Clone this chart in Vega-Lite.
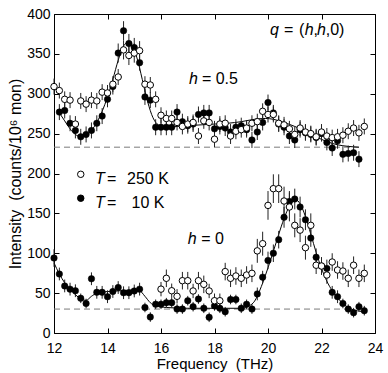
{
  "$schema": "https://vega.github.io/schema/vega-lite/v6.json",
  "width": 321,
  "height": 319,
  "autosize": {"type": "none"},
  "padding": {"left": 54, "top": 14, "right": 13, "bottom": 40},
  "background": "white",
  "config": {
    "view": {"stroke": "black", "strokeWidth": 1},
    "axis": {
      "grid": false, "domain": false, "tickColor": "black", "tickSize": -5, "tickWidth": 1,
      "labelFont": "Liberation Sans", "labelFontSize": 14, "labelColor": "black",
      "titleFont": "Liberation Sans", "titleFontSize": 15, "titleFontWeight": "normal", "titleColor": "black",
      "labelFlush": false, "labelOverlap": false
    }
  },
  "datasets": {
    "base": [
      {"x": 12, "v": 233, "g": "u"}, {"x": 23.4, "v": 233, "g": "u"},
      {"x": 12, "v": 30, "g": "l"}, {"x": 23.0, "v": 30, "g": "l"}
    ],
    "fit": [
      {"x": 12.2, "v": 276, "g": "u"}, {"x": 12.4, "v": 266, "g": "u"}, {"x": 12.6, "v": 256, "g": "u"}, {"x": 12.8, "v": 249, "g": "u"},
      {"x": 13.0, "v": 246, "g": "u"}, {"x": 13.2, "v": 248, "g": "u"}, {"x": 13.4, "v": 254, "g": "u"}, {"x": 13.6, "v": 264, "g": "u"},
      {"x": 13.8, "v": 278, "g": "u"}, {"x": 14.0, "v": 296, "g": "u"}, {"x": 14.2, "v": 318, "g": "u"}, {"x": 14.4, "v": 342, "g": "u"},
      {"x": 14.6, "v": 360, "g": "u"}, {"x": 14.75, "v": 364, "g": "u"}, {"x": 14.9, "v": 360, "g": "u"}, {"x": 15.1, "v": 345, "g": "u"},
      {"x": 15.3, "v": 318, "g": "u"}, {"x": 15.5, "v": 290, "g": "u"}, {"x": 15.7, "v": 270, "g": "u"}, {"x": 15.9, "v": 261, "g": "u"},
      {"x": 16.2, "v": 258, "g": "u"}, {"x": 16.6, "v": 259, "g": "u"}, {"x": 17.0, "v": 260, "g": "u"}, {"x": 17.5, "v": 261, "g": "u"},
      {"x": 18.0, "v": 262, "g": "u"}, {"x": 18.5, "v": 263, "g": "u"}, {"x": 19.0, "v": 265, "g": "u"}, {"x": 19.5, "v": 268, "g": "u"},
      {"x": 19.9, "v": 269, "g": "u"}, {"x": 20.2, "v": 268, "g": "u"}, {"x": 20.6, "v": 264, "g": "u"}, {"x": 21.0, "v": 259, "g": "u"},
      {"x": 21.4, "v": 253, "g": "u"}, {"x": 21.8, "v": 246, "g": "u"}, {"x": 22.2, "v": 240, "g": "u"}, {"x": 22.6, "v": 236, "g": "u"},
      {"x": 23.0, "v": 234, "g": "u"}, {"x": 23.4, "v": 233, "g": "u"},
      {"x": 12.0, "v": 88, "g": "l"}, {"x": 12.2, "v": 74, "g": "l"}, {"x": 12.4, "v": 63, "g": "l"}, {"x": 12.6, "v": 55, "g": "l"},
      {"x": 12.8, "v": 48, "g": "l"}, {"x": 13.0, "v": 43, "g": "l"}, {"x": 13.2, "v": 41, "g": "l"}, {"x": 13.4, "v": 46, "g": "l"},
      {"x": 13.6, "v": 50, "g": "l"}, {"x": 14.0, "v": 52, "g": "l"}, {"x": 14.5, "v": 53, "g": "l"}, {"x": 15.0, "v": 54, "g": "l"},
      {"x": 15.2, "v": 53, "g": "l"}, {"x": 15.4, "v": 46, "g": "l"}, {"x": 15.6, "v": 38, "g": "l"}, {"x": 15.8, "v": 34, "g": "l"},
      {"x": 16.2, "v": 32, "g": "l"}, {"x": 17.0, "v": 31, "g": "l"}, {"x": 18.0, "v": 31, "g": "l"}, {"x": 19.0, "v": 31, "g": "l"},
      {"x": 19.3, "v": 34, "g": "l"}, {"x": 19.5, "v": 40, "g": "l"}, {"x": 19.7, "v": 54, "g": "l"}, {"x": 19.9, "v": 72, "g": "l"},
      {"x": 20.1, "v": 92, "g": "l"}, {"x": 20.3, "v": 113, "g": "l"}, {"x": 20.5, "v": 134, "g": "l"}, {"x": 20.7, "v": 152, "g": "l"},
      {"x": 20.9, "v": 164, "g": "l"}, {"x": 21.05, "v": 167, "g": "l"}, {"x": 21.2, "v": 162, "g": "l"}, {"x": 21.4, "v": 146, "g": "l"},
      {"x": 21.6, "v": 124, "g": "l"}, {"x": 21.8, "v": 101, "g": "l"}, {"x": 22.0, "v": 81, "g": "l"}, {"x": 22.2, "v": 65, "g": "l"},
      {"x": 22.4, "v": 53, "g": "l"}, {"x": 22.6, "v": 44, "g": "l"}, {"x": 22.8, "v": 37, "g": "l"}, {"x": 23.0, "v": 32, "g": "l"},
      {"x": 23.2, "v": 29, "g": "l"}, {"x": 23.5, "v": 27, "g": "l"}
    ],
    "pts": [
      {"x": 12.0, "v": 309, "e": 10, "T": "250"}, {"x": 12.2, "v": 304, "e": 10, "T": "250"}, {"x": 12.4, "v": 293, "e": 10, "T": "250"},
      {"x": 12.6, "v": 292, "e": 10, "T": "250"}, {"x": 12.8, "v": 262, "e": 10, "T": "250"}, {"x": 13.0, "v": 291, "e": 10, "T": "250"},
      {"x": 13.2, "v": 287, "e": 10, "T": "250"}, {"x": 13.4, "v": 292, "e": 10, "T": "250"}, {"x": 13.6, "v": 291, "e": 10, "T": "250"},
      {"x": 13.8, "v": 302, "e": 10, "T": "250"}, {"x": 14.0, "v": 301, "e": 10, "T": "250"}, {"x": 14.2, "v": 312, "e": 10, "T": "250"},
      {"x": 14.4, "v": 321, "e": 10, "T": "250"}, {"x": 14.6, "v": 355, "e": 12, "T": "250"}, {"x": 14.8, "v": 348, "e": 12, "T": "250"},
      {"x": 15.0, "v": 351, "e": 12, "T": "250"}, {"x": 15.2, "v": 354, "e": 12, "T": "250"}, {"x": 15.4, "v": 312, "e": 10, "T": "250"},
      {"x": 15.6, "v": 311, "e": 10, "T": "250"}, {"x": 15.8, "v": 293, "e": 10, "T": "250"}, {"x": 16.0, "v": 273, "e": 10, "T": "250"},
      {"x": 16.2, "v": 269, "e": 10, "T": "250"}, {"x": 16.4, "v": 269, "e": 10, "T": "250"}, {"x": 16.6, "v": 264, "e": 10, "T": "250"},
      {"x": 16.8, "v": 259, "e": 10, "T": "250"}, {"x": 17.0, "v": 262, "e": 10, "T": "250"}, {"x": 17.2, "v": 264, "e": 10, "T": "250"},
      {"x": 17.4, "v": 247, "e": 10, "T": "250"}, {"x": 17.6, "v": 266, "e": 10, "T": "250"}, {"x": 17.8, "v": 264, "e": 10, "T": "250"},
      {"x": 18.0, "v": 243, "e": 10, "T": "250"}, {"x": 18.2, "v": 262, "e": 10, "T": "250"}, {"x": 18.4, "v": 263, "e": 10, "T": "250"},
      {"x": 18.6, "v": 247, "e": 10, "T": "250"}, {"x": 18.8, "v": 253, "e": 10, "T": "250"}, {"x": 19.0, "v": 255, "e": 10, "T": "250"},
      {"x": 19.2, "v": 257, "e": 10, "T": "250"}, {"x": 19.4, "v": 263, "e": 10, "T": "250"}, {"x": 19.6, "v": 265, "e": 10, "T": "250"},
      {"x": 19.8, "v": 278, "e": 10, "T": "250"}, {"x": 20.0, "v": 274, "e": 10, "T": "250"}, {"x": 20.2, "v": 274, "e": 10, "T": "250"},
      {"x": 20.4, "v": 263, "e": 10, "T": "250"}, {"x": 20.6, "v": 261, "e": 10, "T": "250"}, {"x": 20.8, "v": 256, "e": 10, "T": "250"},
      {"x": 21.0, "v": 249, "e": 10, "T": "250"}, {"x": 21.2, "v": 257, "e": 10, "T": "250"}, {"x": 21.4, "v": 252, "e": 10, "T": "250"},
      {"x": 21.6, "v": 250, "e": 10, "T": "250"}, {"x": 21.8, "v": 246, "e": 10, "T": "250"}, {"x": 22.0, "v": 252, "e": 10, "T": "250"},
      {"x": 22.2, "v": 247, "e": 10, "T": "250"}, {"x": 22.4, "v": 245, "e": 10, "T": "250"}, {"x": 22.6, "v": 246, "e": 10, "T": "250"},
      {"x": 22.8, "v": 248, "e": 10, "T": "250"}, {"x": 23.0, "v": 253, "e": 10, "T": "250"}, {"x": 23.2, "v": 257, "e": 10, "T": "250"},
      {"x": 23.4, "v": 251, "e": 10, "T": "250"}, {"x": 23.6, "v": 259, "e": 10, "T": "250"},

      {"x": 12.2, "v": 277, "e": 10, "T": "10"}, {"x": 12.4, "v": 279, "e": 10, "T": "10"}, {"x": 12.6, "v": 263, "e": 10, "T": "10"},
      {"x": 12.8, "v": 254, "e": 10, "T": "10"}, {"x": 13.0, "v": 246, "e": 10, "T": "10"}, {"x": 13.2, "v": 249, "e": 10, "T": "10"},
      {"x": 13.4, "v": 254, "e": 10, "T": "10"}, {"x": 13.6, "v": 263, "e": 10, "T": "10"}, {"x": 13.8, "v": 272, "e": 10, "T": "10"},
      {"x": 14.0, "v": 293, "e": 10, "T": "10"}, {"x": 14.2, "v": 309, "e": 10, "T": "10"}, {"x": 14.4, "v": 351, "e": 12, "T": "10"},
      {"x": 14.6, "v": 379, "e": 12, "T": "10"}, {"x": 14.8, "v": 363, "e": 12, "T": "10"}, {"x": 15.0, "v": 358, "e": 12, "T": "10"},
      {"x": 15.2, "v": 339, "e": 10, "T": "10"}, {"x": 15.4, "v": 296, "e": 10, "T": "10"}, {"x": 15.6, "v": 292, "e": 10, "T": "10"},
      {"x": 15.8, "v": 258, "e": 10, "T": "10"}, {"x": 16.0, "v": 258, "e": 10, "T": "10"}, {"x": 16.2, "v": 258, "e": 10, "T": "10"},
      {"x": 16.4, "v": 258, "e": 10, "T": "10"}, {"x": 16.6, "v": 277, "e": 10, "T": "10"}, {"x": 16.8, "v": 265, "e": 10, "T": "10"},
      {"x": 17.0, "v": 260, "e": 10, "T": "10"}, {"x": 17.2, "v": 262, "e": 10, "T": "10"}, {"x": 17.4, "v": 274, "e": 10, "T": "10"},
      {"x": 17.6, "v": 276, "e": 10, "T": "10"}, {"x": 17.8, "v": 276, "e": 10, "T": "10"}, {"x": 18.0, "v": 256, "e": 10, "T": "10"},
      {"x": 18.2, "v": 259, "e": 10, "T": "10"}, {"x": 18.4, "v": 257, "e": 10, "T": "10"}, {"x": 18.6, "v": 252, "e": 10, "T": "10"},
      {"x": 18.8, "v": 258, "e": 10, "T": "10"}, {"x": 19.0, "v": 260, "e": 10, "T": "10"}, {"x": 19.2, "v": 255, "e": 10, "T": "10"},
      {"x": 19.4, "v": 242, "e": 10, "T": "10"}, {"x": 19.6, "v": 252, "e": 10, "T": "10"}, {"x": 19.8, "v": 264, "e": 10, "T": "10"},
      {"x": 20.0, "v": 289, "e": 10, "T": "10"}, {"x": 20.2, "v": 276, "e": 10, "T": "10"}, {"x": 20.4, "v": 262, "e": 10, "T": "10"},
      {"x": 20.6, "v": 258, "e": 10, "T": "10"}, {"x": 20.8, "v": 247, "e": 10, "T": "10"}, {"x": 21.0, "v": 242, "e": 10, "T": "10"},
      {"x": 21.2, "v": 255, "e": 10, "T": "10"}, {"x": 21.4, "v": 251, "e": 10, "T": "10"}, {"x": 21.6, "v": 249, "e": 10, "T": "10"},
      {"x": 21.8, "v": 245, "e": 10, "T": "10"}, {"x": 22.0, "v": 250, "e": 10, "T": "10"}, {"x": 22.2, "v": 239, "e": 10, "T": "10"},
      {"x": 22.4, "v": 232, "e": 10, "T": "10"}, {"x": 22.6, "v": 241, "e": 10, "T": "10"}, {"x": 22.8, "v": 224, "e": 10, "T": "10"},
      {"x": 23.0, "v": 225, "e": 10, "T": "10"}, {"x": 23.2, "v": 226, "e": 10, "T": "10"}, {"x": 23.4, "v": 218, "e": 10, "T": "10"},

      {"x": 12.0, "v": 94, "e": 11, "T": "10"}, {"x": 12.2, "v": 74, "e": 8, "T": "10"}, {"x": 12.4, "v": 59, "e": 8, "T": "10"},
      {"x": 12.6, "v": 55, "e": 8, "T": "10"}, {"x": 12.8, "v": 53, "e": 8, "T": "10"}, {"x": 13.0, "v": 43.5, "e": 6, "T": "10"},
      {"x": 13.2, "v": 37, "e": 6, "T": "10"}, {"x": 13.4, "v": 68, "e": 8, "T": "10"}, {"x": 13.6, "v": 51, "e": 8, "T": "10"},
      {"x": 13.8, "v": 51, "e": 8, "T": "10"}, {"x": 14.0, "v": 45.5, "e": 8, "T": "10"}, {"x": 14.2, "v": 52, "e": 8, "T": "10"},
      {"x": 14.4, "v": 57, "e": 8, "T": "10"}, {"x": 14.6, "v": 50.5, "e": 8, "T": "10"}, {"x": 14.8, "v": 50.5, "e": 8, "T": "10"},
      {"x": 15.0, "v": 52.7, "e": 8, "T": "10"}, {"x": 15.2, "v": 55, "e": 8, "T": "10"}, {"x": 15.4, "v": 32, "e": 6, "T": "10"},
      {"x": 15.6, "v": 20, "e": 6, "T": "10"}, {"x": 15.8, "v": 36, "e": 6, "T": "10"}, {"x": 16.0, "v": 36, "e": 6, "T": "10"},
      {"x": 16.2, "v": 38, "e": 6, "T": "10"}, {"x": 16.4, "v": 38, "e": 6, "T": "10"}, {"x": 16.6, "v": 30, "e": 6, "T": "10"},
      {"x": 16.8, "v": 30, "e": 6, "T": "10"}, {"x": 17.0, "v": 40.5, "e": 6, "T": "10"}, {"x": 17.2, "v": 33, "e": 6, "T": "10"},
      {"x": 17.4, "v": 42.6, "e": 6, "T": "10"}, {"x": 17.6, "v": 31, "e": 6, "T": "10"}, {"x": 17.8, "v": 19.7, "e": 6, "T": "10"},
      {"x": 18.0, "v": 34, "e": 6, "T": "10"}, {"x": 18.2, "v": 31, "e": 6, "T": "10"}, {"x": 18.4, "v": 26.7, "e": 6, "T": "10"},
      {"x": 18.6, "v": 42, "e": 6, "T": "10"}, {"x": 18.8, "v": 42, "e": 6, "T": "10"}, {"x": 19.0, "v": 31, "e": 6, "T": "10"},
      {"x": 19.2, "v": 36, "e": 6, "T": "10"}, {"x": 19.4, "v": 30, "e": 6, "T": "10"}, {"x": 19.6, "v": 49, "e": 8, "T": "10"},
      {"x": 19.8, "v": 70, "e": 8, "T": "10"}, {"x": 20.0, "v": 91, "e": 11, "T": "10"}, {"x": 20.2, "v": 100, "e": 11, "T": "10"},
      {"x": 20.4, "v": 117, "e": 11, "T": "10"}, {"x": 20.6, "v": 145, "e": 13, "T": "10"}, {"x": 20.8, "v": 165, "e": 13, "T": "10"},
      {"x": 21.0, "v": 168, "e": 13, "T": "10"}, {"x": 21.2, "v": 158, "e": 13, "T": "10"}, {"x": 21.4, "v": 142, "e": 13, "T": "10"},
      {"x": 21.6, "v": 119, "e": 11, "T": "10"}, {"x": 21.8, "v": 95, "e": 11, "T": "10"}, {"x": 22.0, "v": 84, "e": 11, "T": "10"},
      {"x": 22.2, "v": 81, "e": 11, "T": "10"}, {"x": 22.4, "v": 51, "e": 8, "T": "10"}, {"x": 22.6, "v": 45.5, "e": 8, "T": "10"},
      {"x": 22.8, "v": 37, "e": 6, "T": "10"}, {"x": 23.0, "v": 30, "e": 6, "T": "10"}, {"x": 23.2, "v": 25.5, "e": 6, "T": "10"},
      {"x": 23.4, "v": 33, "e": 6, "T": "10"}, {"x": 23.6, "v": 28, "e": 6, "T": "10"},

      {"x": 16.0, "v": 55, "e": 9, "T": "250"}, {"x": 16.2, "v": 68.6, "e": 11, "T": "250"}, {"x": 16.4, "v": 53, "e": 9, "T": "250"},
      {"x": 16.6, "v": 46, "e": 9, "T": "250"}, {"x": 16.8, "v": 65.6, "e": 11, "T": "250"}, {"x": 17.0, "v": 65.6, "e": 11, "T": "250"},
      {"x": 17.2, "v": 52.7, "e": 9, "T": "250"}, {"x": 17.4, "v": 65.6, "e": 11, "T": "250"}, {"x": 17.6, "v": 61, "e": 11, "T": "250"},
      {"x": 17.8, "v": 52.7, "e": 9, "T": "250"}, {"x": 18.0, "v": 40.5, "e": 9, "T": "250"}, {"x": 18.2, "v": 40.5, "e": 9, "T": "250"},
      {"x": 18.4, "v": 77, "e": 11, "T": "250"}, {"x": 18.6, "v": 68.6, "e": 11, "T": "250"}, {"x": 18.8, "v": 71.5, "e": 11, "T": "250"},
      {"x": 19.0, "v": 68.6, "e": 11, "T": "250"}, {"x": 19.2, "v": 72.7, "e": 11, "T": "250"}, {"x": 19.4, "v": 74.8, "e": 11, "T": "250"},
      {"x": 19.6, "v": 103, "e": 15, "T": "250"}, {"x": 19.8, "v": 112, "e": 15, "T": "250"}, {"x": 20.0, "v": 160, "e": 18, "T": "250"},
      {"x": 20.2, "v": 181, "e": 18, "T": "250"}, {"x": 20.4, "v": 181, "e": 18, "T": "250"}, {"x": 20.6, "v": 165.5, "e": 18, "T": "250"},
      {"x": 20.8, "v": 158, "e": 18, "T": "250"}, {"x": 21.0, "v": 135, "e": 15, "T": "250"}, {"x": 21.2, "v": 129, "e": 15, "T": "250"},
      {"x": 21.4, "v": 107, "e": 15, "T": "250"}, {"x": 21.6, "v": 135, "e": 15, "T": "250"}, {"x": 21.8, "v": 85, "e": 11, "T": "250"},
      {"x": 22.0, "v": 84, "e": 11, "T": "250"}, {"x": 22.2, "v": 72.7, "e": 11, "T": "250"}, {"x": 22.4, "v": 89, "e": 11, "T": "250"},
      {"x": 22.6, "v": 79, "e": 11, "T": "250"}, {"x": 22.8, "v": 77.7, "e": 11, "T": "250"}, {"x": 23.0, "v": 68.6, "e": 11, "T": "250"},
      {"x": 23.2, "v": 85, "e": 11, "T": "250"}, {"x": 23.4, "v": 68.6, "e": 11, "T": "250"}, {"x": 23.6, "v": 74.8, "e": 11, "T": "250"}
    ],
    "leg": [
      {"x": 13.0, "v": 199, "T": "250"}, {"x": 13.0, "v": 169, "T": "10"}
    ],
    "ti": [
      {"x": 17.05, "v": 319, "t": "h"}, {"x": 17.0, "v": 117.5, "t": "h"},
      {"x": 20.075, "v": 380, "t": "q"}, {"x": 21.37, "v": 380, "t": "h"}, {"x": 21.83, "v": 380, "t": "h"},
      {"x": 13.53, "v": 193, "t": "T"}, {"x": 13.53, "v": 163.4, "t": "T"}
    ],
    "tn": [
      {"x": 17.53, "v": 319, "t": "= 0.5"}, {"x": 17.5, "v": 117.5, "t": "= 0"},
      {"x": 20.6, "v": 380, "t": "="}, {"x": 21.16, "v": 380, "t": "("}, {"x": 21.7, "v": 380, "t": ","}, {"x": 22.16, "v": 380, "t": ",0)"},
      {"x": 13.98, "v": 193, "t": "="}, {"x": 14.73, "v": 193, "t": "250 K"},
      {"x": 13.98, "v": 163.4, "t": "="}, {"x": 14.9, "v": 163.4, "t": "10 K"}
    ]
  },
  "layer": [
    {
      "data": {"name": "base"},
      "mark": {"type": "line", "strokeDash": [6, 4], "color": "#7a7a7a", "strokeWidth": 1},
      "encoding": {
        "x": {"field": "x", "type": "quantitative", "scale": {"domain": [12, 24], "nice": false, "zero": false},
              "axis": {"orient": "bottom", "values": [12, 14, 16, 18, 20, 22, 24], "labelPadding": 13, "title": "Frequency\u00a0\u00a0(THz)", "titlePadding": 1}},
        "y": {"field": "v", "type": "quantitative", "scale": {"domain": [0, 400], "nice": false},
              "axis": {"orient": "left", "values": [0, 50, 100, 150, 200, 250, 300, 350, 400], "labelPadding": 9, "title": "Intensity\u00a0\u00a0(counts/10\u2076 mon)", "titleFontSize": 16, "titlePadding": 3}},
        "detail": {"field": "g"}
      }
    },
    {
      "data": {"name": "fit"},
      "mark": {"type": "line", "color": "black", "strokeWidth": 1, "interpolate": "monotone"},
      "encoding": {
        "x": {"field": "x", "type": "quantitative", "scale": {"domain": [12, 24], "nice": false, "zero": false},
              "axis": {"orient": "top", "values": [12, 14, 16, 18, 20, 22, 24], "labels": false, "title": null}},
        "y": {"field": "v", "type": "quantitative", "scale": {"domain": [0, 400], "nice": false},
              "axis": {"orient": "right", "values": [0, 50, 100, 150, 200, 250, 300, 350, 400], "labels": false, "title": null}},
        "detail": {"field": "g"}
      }
    },
    {
      "data": {"name": "pts"},
      "mark": {"type": "errorbar", "color": "#222", "thickness": 1},
      "encoding": {
        "x": {"field": "x", "type": "quantitative", "scale": {"domain": [12, 24], "nice": false, "zero": false}, "axis": null},
        "y": {"field": "v", "type": "quantitative", "scale": {"domain": [0, 400], "nice": false}, "axis": null},
        "yError": {"field": "e"}
      }
    },
    {
      "data": {"name": "pts"},
      "transform": [{"filter": "datum.T == '10'"}],
      "mark": {"type": "point", "shape": "circle", "filled": true, "fill": "black", "stroke": "black", "strokeWidth": 0.5, "size": 42, "opacity": 1},
      "encoding": {
        "x": {"field": "x", "type": "quantitative", "scale": {"domain": [12, 24], "nice": false, "zero": false}, "axis": null},
        "y": {"field": "v", "type": "quantitative", "scale": {"domain": [0, 400], "nice": false}, "axis": null}
      }
    },
    {
      "data": {"name": "pts"},
      "transform": [{"filter": "datum.T == '250'"}],
      "mark": {"type": "point", "shape": "circle", "filled": false, "fill": "white", "fillOpacity": 1, "stroke": "black", "strokeWidth": 1, "size": 42, "opacity": 1},
      "encoding": {
        "x": {"field": "x", "type": "quantitative", "scale": {"domain": [12, 24], "nice": false, "zero": false}, "axis": null},
        "y": {"field": "v", "type": "quantitative", "scale": {"domain": [0, 400], "nice": false}, "axis": null}
      }
    },
    {
      "data": {"name": "leg"},
      "mark": {"type": "point", "shape": "circle", "stroke": "black", "strokeWidth": 1, "size": 42, "opacity": 1, "fillOpacity": 1},
      "encoding": {
        "x": {"field": "x", "type": "quantitative", "scale": {"domain": [12, 24], "nice": false, "zero": false}, "axis": null},
        "y": {"field": "v", "type": "quantitative", "scale": {"domain": [0, 400], "nice": false}, "axis": null},
        "fill": {"field": "T", "type": "nominal", "scale": {"domain": ["250", "10"], "range": ["white", "black"]}, "legend": null}
      }
    },
    {
      "data": {"name": "ti"},
      "mark": {"type": "text", "font": "Liberation Sans", "fontSize": 16, "fontStyle": "italic", "align": "left", "baseline": "middle", "color": "black"},
      "encoding": {
        "x": {"field": "x", "type": "quantitative", "scale": {"domain": [12, 24], "nice": false, "zero": false}, "axis": null},
        "y": {"field": "v", "type": "quantitative", "scale": {"domain": [0, 400], "nice": false}, "axis": null},
        "text": {"field": "t"}
      }
    },
    {
      "data": {"name": "tn"},
      "mark": {"type": "text", "font": "Liberation Sans", "fontSize": 16, "align": "left", "baseline": "middle", "color": "black"},
      "encoding": {
        "x": {"field": "x", "type": "quantitative", "scale": {"domain": [12, 24], "nice": false, "zero": false}, "axis": null},
        "y": {"field": "v", "type": "quantitative", "scale": {"domain": [0, 400], "nice": false}, "axis": null},
        "text": {"field": "t"}
      }
    }
  ],
  "resolve": {"axis": {"x": "independent", "y": "independent"}}
}
